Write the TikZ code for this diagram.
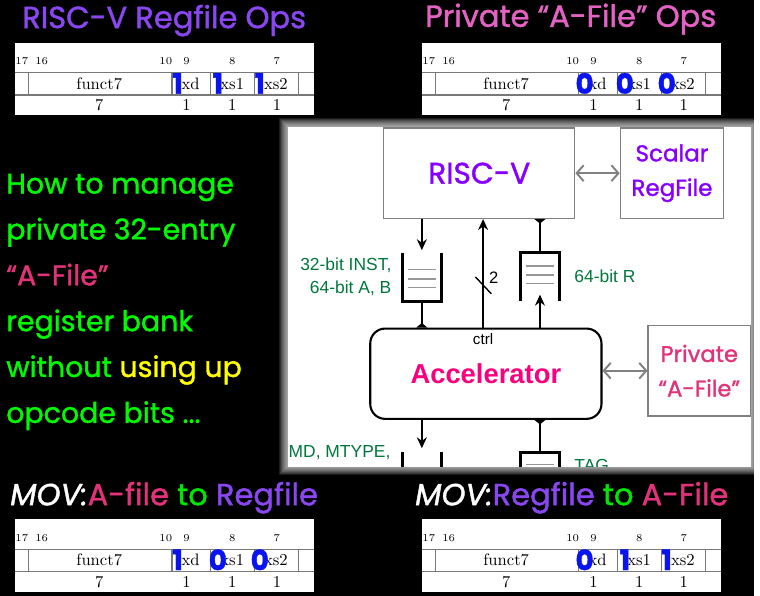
\documentclass[tikz,border=0pt]{standalone}
\usepackage{fontspec}
\newfontfamily\handfont[FakeBold=1.3]{Poppins}
\newfontfamily\diagfont{Liberation Sans}
\usetikzlibrary{arrows.meta,positioning}
\definecolor{regpurple}{RGB}{138,70,240}
\definecolor{opspink}{RGB}{228,98,196}
\definecolor{afpink}{RGB}{226,50,122}
\definecolor{togreen}{RGB}{0,230,0}
\definecolor{askgreen}{RGB}{0,250,0}
\definecolor{askyellow}{RGB}{255,255,0}
\definecolor{flagblue}{RGB}{10,20,240}
\definecolor{rulegray}{RGB}{120,120,120}
\definecolor{boxgray}{RGB}{128,128,128}
\definecolor{slotgray}{RGB}{150,150,150}
\definecolor{unitpurple}{RGB}{135,0,255}
\definecolor{accpink}{RGB}{250,0,125}
\definecolor{siggreen}{RGB}{0,120,60}
\tikzset{
    slide/.style     = {x=0.02cm, y=-0.02cm, >={Stealth[length=2.2mm,width=2mm]}},
    headline/.style  = {anchor=base west, inner sep=0pt,
                        font=\handfont\fontsize{17.5}{20}\selectfont},
    question/.style  = {anchor=base west, inner sep=0pt, text=askgreen,
                        font=\handfont\fontsize{16.3}{20}\selectfont},
    fieldrule/.style = {draw=rulegray, line width=0.6pt},
    bitnum/.style    = {inner sep=0pt, font=\fontsize{6}{7}\selectfont},
    field/.style     = {inner sep=0pt, font=\fontsize{9.5}{11}\selectfont},
    bitflag/.style   = {inner sep=0pt, text=flagblue,
                        font=\handfont\bfseries\fontsize{16}{17}\selectfont},
    unit/.style      = {draw=boxgray, line width=0.8pt, fill=white, inner sep=0pt,
                        minimum height=1.82cm, align=center},
    accel/.style     = {draw, line width=1.2pt, rounded corners=0.3cm, inner sep=0pt,
                        minimum width=4.66cm, minimum height=1.82cm},
    queue/.style     = {inner sep=0pt, minimum width=0.76cm, minimum height=0.96cm},
    qwall/.style     = {line width=1.7pt},
    qslot/.style     = {draw=slotgray, line width=0.7pt},
    wire/.style      = {line width=1.1pt},
    link/.style      = {draw=boxgray, line width=1.1pt,
                        {Straight Barb[length=1.4mm,width=3.2mm]}-{Straight Barb[length=1.4mm,width=3.2mm]}},
    sig/.style       = {inner sep=0pt, text=siggreen,
                        font=\diagfont\fontsize{10}{13.6}\selectfont},
    tap/.tip         = {Triangle[reversed,length=0.9mm,width=2.2mm]}
}
% one instruction format table: name, shift, xd, xs1, xs2
\newcommand\opformat[5]{%
  \begin{scope}[shift={#2}]
    \fill[white] (15,43) rectangle (316,116);
    \draw[fieldrule] (15,73.3) -- (316,73.3) (15,95.7) -- (316,95.7);
    \foreach \x in {28.3,173.3,212,256,301}
        \draw[fieldrule] (\x,73.3) -- (\x,95.7);
    \foreach \x/\n in {22/17,42/16,167/10,188/9,234/8,279/7}
        \node[bitnum] (#1-bit\n) at (\x,62) {\n};
    \foreach \x/\f in {100/funct7,192/xd,234/xs1,278/xs2}
        \node[field] (#1-\f) at (\x,84.5) {\f};
    \foreach \x/\f/\v in {179/xd/#3,219.5/xs1/#4,261.7/xs2/#5}
        \node[bitflag] (#1-\f-val) at (\x,84) {\v};
    \foreach \x/\f/\w in {100/funct7/7,188/xd/1,234/xs1/1,279/xs2/1}
        \node[field] (#1-\f-width) at (\x,106) {\w};
  \end{scope}}

\begin{document}
\begin{tikzpicture}[slide]
\fill[black] (0,0) rectangle (760,600);

% headlines
\node[headline,text=regpurple] (regops) at (22,28.3) {RISC-V Regfile Ops};
\node[headline,text=opspink] (afops) at (428,27) {Private “A-File” Ops};
\node[headline] (movtoreg) at (10,509)
    {\textcolor{white}{\itshape MOV:}\textcolor{afpink}{A-file} \textcolor{togreen}{to} \textcolor{regpurple}{Regfile}};
\node[headline] (movtoaf) at (418,509)
    {\textcolor{white}{\itshape MOV:}\textcolor{regpurple}{Regfile} \textcolor{togreen}{to} \textcolor{afpink}{A-File}};

\opformat{regfmt}{(0,0)}{1}{1}{1}
\opformat{affmt}{(410,0)}{0}{0}{0}
\opformat{movafmt}{(0,480)}{1}{0}{0}
\opformat{movrfmt}{(410,480)}{0}{1}{1}

% question on the left
\foreach \n/\txt in {0/{How to manage},1/{private 32-entry},2/{\textcolor{afpink}{“A-File”}},
                     3/{register bank},4/{without \textcolor{askyellow}{using up}},5/{opcode bits ...}}
    \node[question] (ask\n) at (6,195+46.2*\n) {\txt};

% diagram panel
\foreach \i in {1,...,9}
    \draw[white,opacity=0.11,line width=1.1*\i pt] (290,128) rectangle (757,470);
\fill[white] (290,128) rectangle (757,470);
\begin{scope}
\clip (290,128) rectangle (757,470);
\node[unit,minimum width=3.85cm,text=unitpurple,font=\handfont\fontsize{17}{20}\selectfont]
    (risc) at (482.8,174.5) {RISC-V};
\node[unit,minimum width=2.08cm,text=unitpurple,font=\handfont\fontsize{13.2}{19.8}\selectfont]
    (scalar) at (677,174.5) {Scalar\\RegFile};
\node[accel,text=accpink,font=\diagfont\bfseries\fontsize{15.7}{18}\selectfont]
    (acc) at (489.5,376.5) {Accelerator};
\node[unit,minimum width=2.06cm,text=afpink,font=\handfont\fontsize{13}{19.8}\selectfont]
    (afile) at (704.5,373.5) {Private\\“A-File”};
\node[inner sep=0pt,font=\diagfont\fontsize{8.7}{10}\selectfont] (ctrl) at (486.7,342) {ctrl};

\node[queue] (inq) at (425,279) {};
\node[queue] (rq) at (544,278.5) {};
\node[queue] (mq) at (425,480) {};
\node[queue] (tq) at (544,480) {};
\draw[qwall] (inq.north west) -- (inq.south west) -- (inq.south east) -- (inq.north east);
\draw[qwall] (rq.south west) -- (rq.north west) -- (rq.north east) -- (rq.south east);
\draw[qwall] (mq.north west) -- (mq.south west) -- (mq.south east) -- (mq.north east);
\draw[qwall] (tq.south west) -- (tq.north west) -- (tq.north east) -- (tq.south east);
\foreach \q/\dy in {inq/-7.3,inq/2,inq/11,rq/-10.5,rq/-1.5,rq/7.5,tq/-12}
    \draw[qslot] ([shift={(-14,\dy)}]\q.center) -- ([shift={(14,\dy)}]\q.center);

\draw[wire,->] (risc.south -| inq.north) -- ([yshift=1.5pt]inq.north);
\draw[wire,-tap] (inq.south) -- (inq.south |- acc.north);
\draw[wire,->] (acc.north -| ctrl) -- (risc.south -| ctrl);
\coordinate (bus) at (487,287.5);
\draw[line width=0.8pt] ([shift={(-8,-8.5)}]bus) -- ([shift={(8,8.5)}]bus);
\node[inner sep=0pt,font=\diagfont\fontsize{9.5}{11}\selectfont] (buswidth) at (497.5,280) {2};
\draw[wire,-tap] (rq.north) -- (rq.north |- risc.south);
\draw[wire,->] (acc.north -| rq.south) -- ([yshift=3.4pt]rq.south);
\draw[wire,->] (acc.south -| mq.north) -- ([yshift=2.3pt]mq.north);
\draw[wire,tap-] (acc.south -| tq.north) -- (tq.north);
\draw[link] (risc.east) -- (scalar.west);
\draw[link] (acc.east |- afile.west) -- (afile.west);

\node[sig,align=right,left=0.22cm of inq] (inlbl) {32-bit INST,\\64-bit A, B};
\node[sig,right=0.3cm of rq] (rlbl) {64-bit R};
\node[sig,left=0.24cm of mq.north west] (mlbl) {MD, MTYPE,};
\node[sig,right=0.3cm of tq.north east,yshift=-0.27cm] (taglbl) {TAG};
\end{scope}
\end{tikzpicture}
\end{document}
